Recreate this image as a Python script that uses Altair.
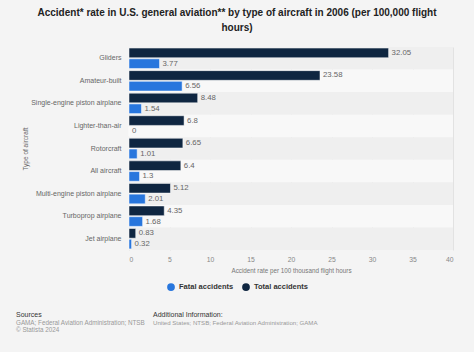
import altair as alt
import pandas as pd

categories = ["Gliders", "Amateur-built", "Single-engine piston airplane", "Lighter-than-air",
              "Rotorcraft", "All aircraft", "Multi-engine piston airplane", "Turboprop airplane",
              "Jet airplane"]
total = [32.05, 23.58, 8.48, 6.8, 6.65, 6.4, 5.12, 4.35, 0.83]
fatal = [3.77, 6.56, 1.54, 0, 1.01, 1.3, 2.01, 1.68, 0.32]
series = ["Fatal accidents", "Total accidents"]
ticks = [0, 5, 10, 15, 20, 25, 30, 35, 40]

rows = []
for c, t, f in zip(categories, total, fatal):
    rows.append({"cat": c, "series": "Total accidents", "value": t, "label": f"{t:g}"})
    rows.append({"cat": c, "series": "Fatal accidents", "value": f, "label": f"{f:g}"})
df = pd.DataFrame(rows)
bands = pd.DataFrame({"cat": categories, "odd": [i % 2 for i in range(len(categories))]})

FONT = "Liberation Sans"
W, H = 324, 203

yenc = alt.Y("cat:N", sort=categories, title="Type of aircraft",
             scale=alt.Scale(paddingInner=0, paddingOuter=0),
             axis=alt.Axis(labelColor="#666666", labelFontSize=7, labelFont=FONT, ticks=False,
                           domain=False, labelPadding=8, titleColor="#666666", titleFontSize=6.5,
                           titleFontWeight="normal", titleFont=FONT, titlePadding=2))
yoff = alt.YOffset("series:N", sort=["Total accidents", "Fatal accidents"],
                   scale=alt.Scale(paddingInner=0.1, paddingOuter=0.1))
xenc = alt.X("value:Q", scale=alt.Scale(domain=[0, 40]), title="Accident rate per 100 thousand flight hours",
             axis=alt.Axis(values=ticks, labelColor="#888888", labelFontSize=6.8, labelFont=FONT,
                           ticks=False, domain=False, grid=True, gridColor="#e2e2e2",
                           titleColor="#777777", titleFontSize=6.3, titleFontWeight="normal",
                           titleFont=FONT, labelPadding=6, titlePadding=5))

band_layer = alt.Chart(bands).mark_rect().encode(
    y=alt.Y("cat:N", sort=categories),
    x=alt.value(0), x2=alt.value(W),
    color=alt.Color("odd:N", scale=alt.Scale(domain=[0, 1], range=["#efefef", "#f8f8f8"]), legend=None),
)

bars = alt.Chart(df).mark_bar(stroke="#ffffff", strokeWidth=0.5).encode(
    y=yenc, yOffset=yoff, x=xenc,
    color=alt.Color("series:N", scale=alt.Scale(domain=series, range=["#2876dd", "#0f2641"]),
                    legend=alt.Legend(title=None, orient="none", legendX=38, legendY=236,
                                      direction="horizontal", symbolType="circle", symbolSize=60,
                                      labelFontSize=7.5, labelFontWeight="bold", labelColor="#333333",
                                      labelFont=FONT, columnPadding=8, symbolStrokeWidth=0)),
)

labels = alt.Chart(df).mark_text(align="left", dx=3, fontSize=7.8, color="#666666", font=FONT).encode(
    y=alt.Y("cat:N", sort=categories), yOffset=yoff, x="value:Q", text="label:N",
)

foot = pd.DataFrame({
    "t": ["Sources", "GAMA; Federal Aviation Administration; NTSB", "© Statista 2024",
          "Additional Information:", "United States; NTSB; Federal Aviation Administration; GAMA"],
    "x": [16 - 129, 16 - 129, 16 - 129, 153 - 129, 153 - 129],
    "y": [315 - 47, 323 - 47, 330 - 47, 315 - 47, 323 - 47],
    "s": [7, 6.3, 6.3, 7, 6.1],
    "c": ["#333333", "#999999", "#999999", "#333333", "#999999"],
})
footer = alt.Chart(foot).mark_text(align="left", baseline="middle", font=FONT).encode(
    x=alt.X("x:Q", scale=None), y=alt.Y("y:Q", scale=None), text="t:N",
    size=alt.Size("s:Q", scale=None, legend=None), color=alt.Color("c:N", scale=None, legend=None),
)

chart = alt.layer(band_layer, bars, labels, footer).resolve_scale(color="independent").properties(
    width=W, height=H,
    title=alt.Title(["Accident* rate in U.S. general aviation** by type of aircraft in 2006 (per 100,000 flight",
                     "hours)"], anchor="middle", frame="group", dx=-54, fontSize=10, font=FONT,
                    fontWeight="bold", color="#222222", offset=14, lineHeight=15),
    autosize=alt.AutoSizeParams(type="none"),
    padding={"left": 129, "top": 47, "right": 21, "bottom": 102},
    background="#f4f4f4",
).configure_view(stroke=None)

chart.save("out.html", embed_options={"renderer": "svg", "actions": False})
